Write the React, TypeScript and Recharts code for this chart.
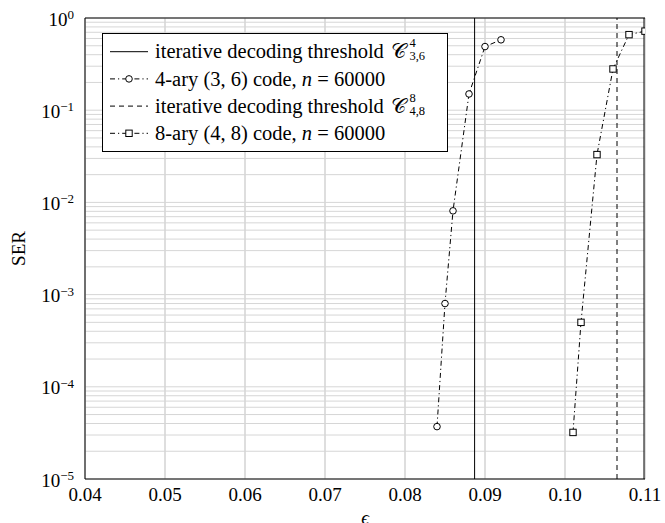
import { CartesianGrid, Legend, Line, LineChart, ReferenceLine, XAxis, YAxis } from "recharts"

const FONT = '"Liberation Serif", "DejaVu Serif", serif'

const X_TICKS = [0.04, 0.05, 0.06, 0.07, 0.08, 0.09, 0.1, 0.11]
const Y_MAJOR = [1e-5, 1e-4, 1e-3, 1e-2, 1e-1, 1]
const MINOR_STEPS = [2, 3, 4, 5, 6, 7, 8, 9]
const Y_ALL = Y_MAJOR.flatMap((d) => (d < 1 ? [d, ...MINOR_STEPS.map((m) => m * d)] : [d]))

// iterative decoding thresholds
const THRESHOLD_4 = 0.0887
const THRESHOLD_8 = 0.1065

// 4-ary (3,6) code, n = 60000
const EPS_4ARY = [0.084, 0.085, 0.086, 0.088, 0.09, 0.092]
const SER_4ARY = [3.7e-5, 8e-4, 8.1e-3, 0.15, 0.49, 0.58]

// 8-ary (4,8) code, n = 60000
const EPS_8ARY = [0.101, 0.102, 0.104, 0.106, 0.108, 0.11]
const SER_8ARY = [3.2e-5, 5e-4, 0.033, 0.28, 0.66, 0.72]

const data4 = EPS_4ARY.map((eps, i) => ({ eps, ser: SER_4ARY[i] }))
const data8 = EPS_8ARY.map((eps, i) => ({ eps, ser: SER_8ARY[i] }))

const DASH_DOT = "5 3 1.2 3"
const DASHED = "5 4"

function YTick({ x, y, payload }: any) {
  const exp = Math.round(Math.log10(payload.value))
  return (
    <text x={x} y={y + 7.5} textAnchor="end" fontFamily={FONT} fontSize={19} fill="#000">
      <tspan>10</tspan>
      <tspan dy={-6.5} fontSize={13}>{exp === 0 ? "0" : `\u2212${-exp}`}</tspan>
    </text>
  )
}

function XTick({ x, y, payload }: any) {
  return (
    <text x={x} y={y + 14} textAnchor="middle" fontFamily={FONT} fontSize={19} fill="#000">
      {payload.value.toFixed(2)}
    </text>
  )
}

function CircleDot({ cx, cy, index }: any) {
  return <circle key={index} cx={cx} cy={cy} r={3.3} fill="#fff" stroke="#000" strokeWidth={1} />
}

function SquareDot({ cx, cy, index }: any) {
  return <rect key={index} x={cx - 3.2} y={cy - 3.2} width={6.4} height={6.4} fill="#fff" stroke="#000" strokeWidth={1} />
}

const ROW_H = 27.2

function LegendBox() {
  const rowY = (i: number) => 18.7 + i * ROW_H
  const textProps = { x: 53, fontFamily: FONT, fontSize: 20.5, fill: "#000" }
  const sample = (i: number, dash?: string, marker?: "circle" | "square") => {
    const y = rowY(i)
    return (
      <g>
        <line x1={8} y1={y} x2={46} y2={y} stroke="#000" strokeWidth={1} strokeDasharray={dash} />
        {marker === "circle" && <circle cx={27} cy={y} r={3.3} fill="#fff" stroke="#000" />}
        {marker === "square" && <rect x={23.8} y={y - 3.2} width={6.4} height={6.4} fill="#fff" stroke="#000" />}
      </g>
    )
  }
  const threshold = (i: number, sup: string, sub: string) => (
    <text {...textProps} y={rowY(i) + 6.6}>
      iterative decoding threshold{" "}
      <tspan dx={2}>𝒞</tspan>
      <tspan dx={3.5} dy={-11} fontSize={12.5}>{sup}</tspan>
      <tspan dx={-6.25} dy={13} fontSize={12.5}>{sub}</tspan>
    </text>
  )
  const code = (i: number, label: string) => (
    <text {...textProps} y={rowY(i) + 6.6}>
      {label} code, <tspan fontStyle="italic">n</tspan> = 60000
    </text>
  )
  return (
    <svg width={346} height={119} style={{ display: "block" }}>
      <rect x={0.5} y={0.5} width={345} height={118} fill="#fff" stroke="#000" strokeWidth={1} />
      {sample(0)}
      {threshold(0, "4", "3,6")}
      {sample(1, DASH_DOT, "circle")}
      {code(1, "4-ary (3, 6)")}
      {sample(2, DASHED)}
      {threshold(2, "8", "4,8")}
      {sample(3, DASH_DOT, "square")}
      {code(3, "8-ary (4, 8)")}
    </svg>
  )
}

const logAxis = {
  type: "number" as const,
  scale: "log" as const,
  domain: [1e-5, 1] as [number, number],
  allowDataOverflow: true,
}

const TICK_STROKE = { stroke: "#666" }

export default function App() {
  return (
    <div style={{ position: "absolute", left: 0, top: 0, background: "#fff" }}>
      <LineChart width={665} height={523} margin={{ top: 18, right: 20, bottom: 0, left: 25 }}>
        <CartesianGrid xAxisId="x" yAxisId="main" horizontal={false} stroke="#bdbdbd" />
        {Y_ALL.map((v) => (
          <ReferenceLine key={v} xAxisId="x" yAxisId="main" y={v} stroke="#d6d6d6" strokeWidth={1} />
        ))}
        <XAxis
          xAxisId="x"
          dataKey="eps"
          type="number"
          domain={[0.04, 0.11]}
          ticks={X_TICKS}
          allowDataOverflow
          height={44}
          tickLine={false}
          tickSize={6}
          tickMargin={2}
          tick={<XTick />}
          axisLine={{ stroke: "#000" }}
          label={({ viewBox }: any) => (
            <text
              x={viewBox.x + viewBox.width / 2}
              y={viewBox.y + 45}
              textAnchor="middle"
              fontFamily={FONT}
              fontSize={19}
              fontStyle="italic"
            >
              ϵ
            </text>
          )}
        />
        <XAxis xAxisId="top" orientation="top" mirror type="number" domain={[0.04, 0.11]} height={1} tick={false} tickLine={false} axisLine={{ stroke: "#000" }} />
        <YAxis
          yAxisId="main"
          {...logAxis}
          ticks={Y_MAJOR}
          width={60}
          tickLine={false}
          tickSize={6}
          tickMargin={5}
          tick={<YTick />}
          axisLine={{ stroke: "#000" }}
          label={({ viewBox }: any) => {
            const cy = viewBox.y + viewBox.height / 2
            return (
              <text x={25} y={cy} transform={`rotate(-90 25 ${cy})`} textAnchor="middle" fontFamily={FONT} fontSize={19}>
                SER
              </text>
            )
          }}
        />
        <YAxis yAxisId="allL" {...logAxis} ticks={Y_ALL} mirror width={1} tick={false} tickSize={4} axisLine={false} tickLine={TICK_STROKE} />
        <YAxis yAxisId="majL" {...logAxis} ticks={Y_MAJOR} mirror width={1} tick={false} tickSize={7} axisLine={false} tickLine={TICK_STROKE} />
        <YAxis yAxisId="allR" orientation="right" {...logAxis} ticks={Y_ALL} mirror width={1} tick={false} tickSize={4} axisLine={false} tickLine={TICK_STROKE} />
        <YAxis yAxisId="majR" orientation="right" {...logAxis} ticks={Y_MAJOR} mirror width={1} tick={false} tickSize={7} axisLine={{ stroke: "#000" }} tickLine={TICK_STROKE} />
        <ReferenceLine xAxisId="x" yAxisId="main" x={THRESHOLD_4} stroke="#000" strokeWidth={1} />
        <ReferenceLine xAxisId="x" yAxisId="main" x={THRESHOLD_8} stroke="#000" strokeWidth={1} strokeDasharray={DASHED} />
        <Line
          xAxisId="x"
          yAxisId="main"
          data={data4}
          dataKey="ser"
          stroke="#000"
          strokeWidth={1}
          strokeDasharray={DASH_DOT}
          dot={CircleDot}
          isAnimationActive={false}
        />
        <Line
          xAxisId="x"
          yAxisId="main"
          data={data8}
          dataKey="ser"
          stroke="#000"
          strokeWidth={1}
          strokeDasharray={DASH_DOT}
          dot={SquareDot}
          isAnimationActive={false}
        />
        <Legend
          layout="vertical"
          align="center"
          verticalAlign="middle"
          wrapperStyle={{ left: 102, top: 33, width: 346, height: 119 }}
          content={() => <LegendBox />}
        />
      </LineChart>
    </div>
  )
}
